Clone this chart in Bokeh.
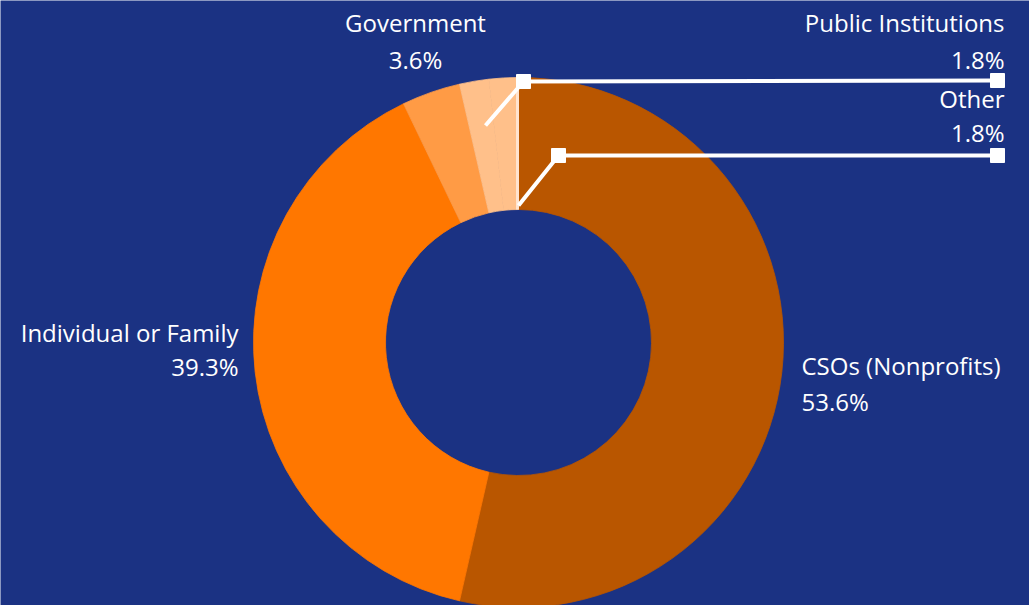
import math
from bokeh.plotting import figure
from bokeh.models import Range1d, ColumnDataSource
from bokeh.core.properties import value
from bokeh.embed import file_html
from bokeh.resources import INLINE

# ---- data ----
categories = ["CSOs (Nonprofits)", "Individual or Family", "Government", "Public Institutions", "Other"]
counts = [30, 22, 2, 1, 1]
pct_labels = ["53.6%", "39.3%", "3.6%", "1.8%", "1.8%"]
colors = ["#b95600", "#ff7700", "#ff9b45", "#ffc08a", "#ffc08a"]

W, H = 1029, 605
BG = "#1b3283"
CX, CY = 518, H - 342
R_OUT, R_IN = 265, 133

p = figure(width=W, height=H, output_backend="svg", toolbar_location=None,
           x_range=Range1d(0, W), y_range=Range1d(0, H), min_border=0)
p.axis.visible = False
p.grid.visible = False
p.outline_line_color = None
p.background_fill_color = BG
p.border_fill_color = BG

total = sum(counts)
starts, ends = [], []
acc = 0.0
for c in counts:
    a0 = acc / total * 2 * math.pi
    acc += c
    a1 = acc / total * 2 * math.pi
    # clockwise from 12 o'clock -> bokeh angle
    starts.append(math.pi / 2 - a0)
    ends.append(math.pi / 2 - a1)

src = ColumnDataSource(dict(x=[CX] * len(counts), y=[CY] * len(counts),
                            start=starts, end=ends, color=colors, cat=categories))
p.annular_wedge(x="x", y="y", inner_radius=R_IN, outer_radius=R_OUT,
                start_angle="start", end_angle="end", direction="clock",
                fill_color="color", line_color="color", line_width=0.8, source=src)

# thin light separator at 12 o'clock
p.segment(x0=[CX - 1], y0=[CY + R_IN], x1=[CX - 1], y1=[CY + R_OUT],
          line_color="#ffe4d0", line_width=3)

FONT = value("Open Sans")
TS = "24px"

def label(x, y, txt, align):
    p.text(x=[x], y=[H - y], text=[txt], text_color="white", text_font=FONT,
           text_font_size=TS, text_align=align, text_baseline="middle")

# Government
label(415, 22, categories[2], "center")
label(415, 59, pct_labels[2], "center")
# Public Institutions
label(1004, 22, categories[3], "right")
label(1004, 59, pct_labels[3], "right")
# Other
label(1004, 98, categories[4], "right")
label(1004, 132, pct_labels[4], "right")
# Individual
label(238, 332, categories[1], "right")
label(238, 366, pct_labels[1], "right")
# CSOs
label(801, 365, categories[0], "left")
label(801, 401, pct_labels[0], "left")

# leader lines
def leader(pts):
    xs = [q[0] for q in pts]
    ys = [H - q[1] for q in pts]
    p.line(xs, ys, line_color="white", line_width=4)
    p.scatter([xs[1], xs[2]], [ys[1], ys[2]], marker="square", size=14,
              fill_color="white", line_color="white")

leader([(485, 125), (523, 81), (997, 80)])
leader([(518, 205), (558, 155), (997, 155)])

open("out.html", "w").write(file_html(p, INLINE))
